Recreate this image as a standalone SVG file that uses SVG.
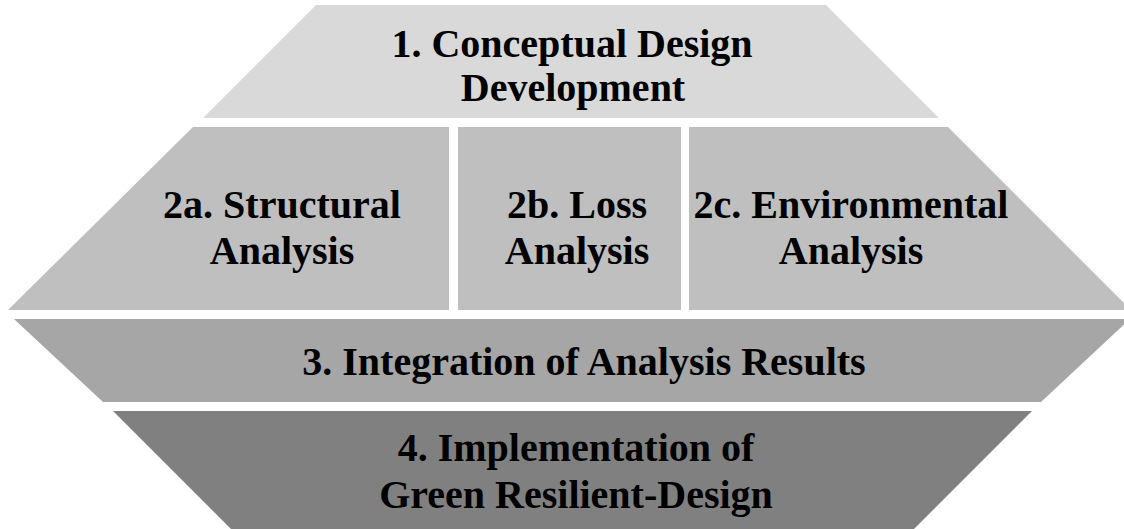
<svg xmlns="http://www.w3.org/2000/svg" width="1124" height="529" viewBox="0 0 1124 529">
  <style>
    .lbl { font-family: "Liberation Serif", "Times New Roman", serif; font-weight: bold; font-size: 40px; fill: #000; text-anchor: middle; }
    .t1 { fill: #d9d9d9; }
    .t2 { fill: #bfbfbf; }
    .t3 { fill: #a6a6a6; }
    .t4 { fill: #808080; }
  </style>
  <rect width="1124" height="529" fill="#ffffff"/>

  <!-- Stage 1: top trapezoid -->
  <g id="stage1">
    <polygon class="t1" points="316,5 826,5 939,118 203,118"/>
    <text class="lbl" x="572" y="57">1. Conceptual Design</text>
    <text class="lbl" x="573" y="101">Development</text>
  </g>

  <!-- Stage 2: three parallel analyses -->
  <g id="stage2a">
    <polygon class="t2" points="193,127 449,127 449,310 8,310"/>
    <text class="lbl" x="282" y="218">2a. Structural</text>
    <text class="lbl" x="282" y="264">Analysis</text>
  </g>
  <g id="stage2b">
    <rect class="t2" x="458" y="127" width="223" height="183"/>
    <text class="lbl" x="577" y="218">2b. Loss</text>
    <text class="lbl" x="577" y="264">Analysis</text>
  </g>
  <g id="stage2c">
    <polygon class="t2" points="689,127 948,127 1131,310 689,310"/>
    <text class="lbl" x="851" y="218">2c. Environmental</text>
    <text class="lbl" x="851" y="264">Analysis</text>
  </g>

  <!-- Stage 3: integration band -->
  <g id="stage3">
    <polygon class="t3" points="14,319 1130,319 1041,402 103,402"/>
    <text class="lbl" x="584" y="375">3. Integration of Analysis Results</text>
  </g>

  <!-- Stage 4: implementation -->
  <g id="stage4">
    <polygon class="t4" points="113,411 1032,411 903,540 242,540"/>
    <text class="lbl" x="576" y="461">4. Implementation of</text>
    <text class="lbl" x="576" y="508">Green Resilient-Design</text>
  </g>

  <!-- no connectors: stages are stacked blocks -->
  <g id="connectors"/>
</svg>
